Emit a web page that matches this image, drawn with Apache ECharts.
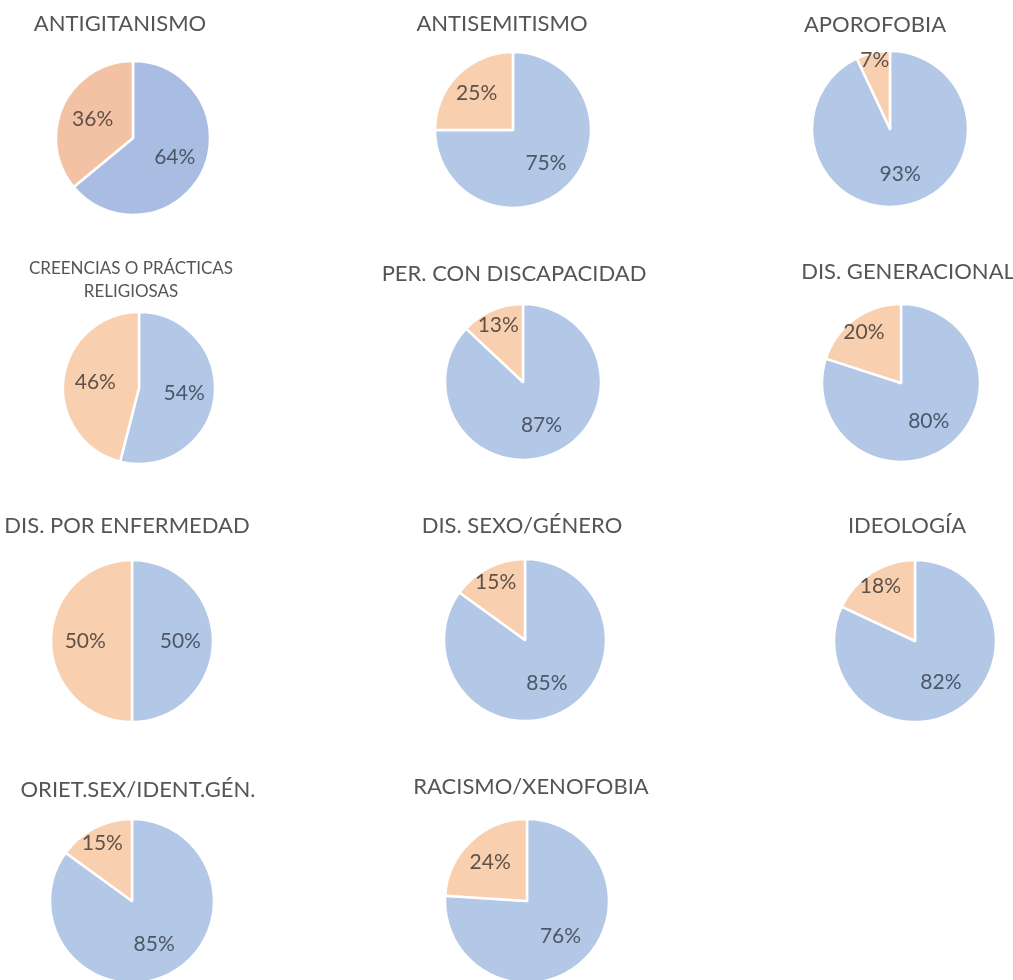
<!DOCTYPE html>
<html>
<head>
<meta charset="utf-8">
<script src="https://cdn.jsdelivr.net/npm/echarts@6/dist/echarts.min.js"></script>
<style>
  html, body { margin: 0; padding: 0; background: #fff; }
  #main { width: 1013px; height: 980px; }
</style>
</head>
<body>
<div id="main"></div>
<script>
// datos
var categorias = [
  'ANTIGITANISMO', 'ANTISEMITISMO', 'APOROFOBIA',
  'CREENCIAS O PRÁCTICAS\nRELIGIOSAS', 'PER. CON DISCAPACIDAD', 'DIS. GENERACIONAL',
  'DIS. POR ENFERMEDAD', 'DIS. SEXO/GÉNERO', 'IDEOLOGÍA',
  'ORIET.SEX/IDENT.GÉN.', 'RACISMO/XENOFOBIA'
]
var valoresAzul = [64, 75, 93, 54, 87, 80, 50, 85, 82, 85, 76]
var valoresNaranja = [36, 25, 7, 46, 13, 20, 50, 15, 18, 15, 24]

// posiciones de cada celda (centro tarta, radio, titulo)
var celdas = [
  { cx: 133, cy: 138, r: 77, tx: 120, ty: 25 },
  { cx: 513, cy: 130, r: 78, tx: 502, ty: 25 },
  { cx: 890, cy: 129, r: 78, tx: 875, ty: 26 },
  { cx: 139, cy: 388, r: 76, tx: 131, ty: 267 },
  { cx: 523, cy: 382, r: 78, tx: 514, ty: 275 },
  { cx: 901, cy: 383, r: 79, tx: 908, ty: 273 },
  { cx: 132, cy: 641, r: 81, tx: 127, ty: 527 },
  { cx: 525, cy: 640, r: 81, tx: 522, ty: 527 },
  { cx: 915, cy: 641, r: 81, tx: 907, ty: 527 },
  { cx: 132, cy: 901, r: 82, tx: 138, ty: 791 },
  { cx: 527, cy: 901, r: 82, tx: 531, ty: 788 }
]

var azul = '#b3c7e6'
var naranja = '#f8d0b0'
var fuente = 'Lato'

function fraccionNaranja (v) {
  if (v < 10) return 0.86
  if (v <= 20) return 0.76
  if (v <= 25) return 0.62
  return 0.54
}

var titles = []
var series = []
for (var i = 0; i < categorias.length; i++) {
  var c = celdas[i]
  var dosLineas = categorias[i].indexOf('\n') >= 0
  var fs = dosLineas ? 17 : 22
  titles.push({
    text: categorias[i],
    left: c.tx,
    top: dosLineas ? c.ty - 10 : c.ty - 13,
    textAlign: 'center',
    padding: 0,
    textStyle: {
      fontFamily: fuente,
      fontSize: fs,
      fontWeight: 'normal',
      color: '#555555',
      lineHeight: 23
    }
  })
  var colAzul = i === 0 ? '#a9bde3' : azul
  var colNaranja = i === 0 ? '#f3c2a4' : naranja
  var datos = [
    { value: valoresAzul[i], name: 'azul', itemStyle: { color: colAzul } },
    { value: valoresNaranja[i], name: 'naranja', itemStyle: { color: colNaranja } }
  ]
  // tarta
  series.push({
    type: 'pie',
    center: [c.cx, c.cy],
    radius: [0, c.r],
    startAngle: 90,
    clockwise: true,
    silent: true,
    animation: false,
    label: { show: false },
    labelLine: { show: false },
    itemStyle: { borderColor: '#fff', borderWidth: 2.5 },
    data: datos
  })
  // etiqueta azul
  var fa = 0.56
  series.push({
    type: 'pie',
    center: [c.cx, c.cy],
    radius: [c.r * (2 * fa - 1), c.r],
    startAngle: 90,
    silent: true,
    animation: false,
    itemStyle: { color: 'transparent' },
    labelLine: { show: false },
    data: [
      { value: valoresAzul[i], label: { show: true, position: 'inside', formatter: '{c}%', fontFamily: fuente, fontSize: 21, color: '#4c5868' } },
      { value: valoresNaranja[i], label: { show: false } }
    ]
  })
  // etiqueta naranja
  var fn = fraccionNaranja(valoresNaranja[i])
  series.push({
    type: 'pie',
    center: [c.cx, c.cy],
    radius: [c.r * (2 * fn - 1), c.r],
    startAngle: 90,
    silent: true,
    animation: false,
    itemStyle: { color: 'transparent' },
    labelLine: { show: false },
    data: [
      { value: valoresAzul[i], label: { show: false } },
      { value: valoresNaranja[i], label: { show: true, position: 'inside', formatter: '{c}%', fontFamily: fuente, fontSize: 21, color: '#5f5148' } }
    ]
  })
}

var chart = echarts.init(document.getElementById('main'))
chart.setOption({
  backgroundColor: '#fff',
  animation: false,
  title: titles,
  series: series
})
</script>
</body>
</html>
